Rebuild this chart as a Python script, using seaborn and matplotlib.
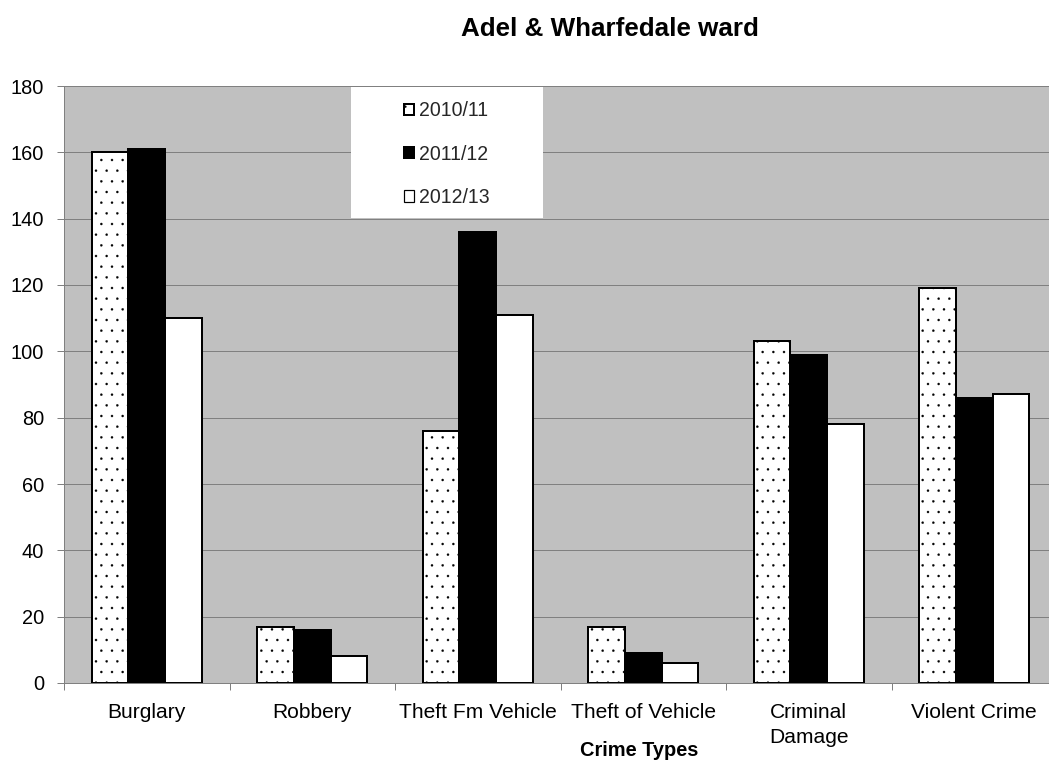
import matplotlib
matplotlib.use("Agg")
import matplotlib.pyplot as plt
import seaborn as sns
import pandas as pd
import numpy as np
from matplotlib.patches import Rectangle, Patch

# ---- data ----
categories = ["Burglary", "Robbery", "Theft Fm Vehicle", "Theft of Vehicle",
              "Criminal\nDamage", "Violent Crime"]
years = ["2010/11", "2011/12", "2012/13"]
values_2010_11 = [160, 17, 76, 17, 103, 119]
values_2011_12 = [161, 16, 136, 9, 99, 86]
values_2012_13 = [110, 8, 111, 6, 78, 87]
y_ticks = [0, 20, 40, 60, 80, 100, 120, 140, 160, 180]
title = "Adel & Wharfedale ward"
x_title = "Crime Types"

df = pd.DataFrame({
    "category": categories * 3,
    "year": [years[0]] * 6 + [years[1]] * 6 + [years[2]] * 6,
    "value": values_2010_11 + values_2011_12 + values_2012_13,
})

sns.set_theme(style="white")
plt.rcParams['font.family'] = ['Liberation Sans', 'DejaVu Sans']
plt.rcParams['hatch.linewidth'] = 0.15

DPI = 128
W, H = 1049, 762
px = 72.0 / DPI  # points per pixel

fig = plt.figure(figsize=(W / DPI, H / DPI), dpi=DPI)
fig.patch.set_facecolor('white')
ax = fig.add_axes([64 / W, (H - 683) / H, 993 / W, 597 / H])
ax.set_facecolor('#C0C0C0')

sns.barplot(data=df, x="category", y="value", hue="year", order=categories,
            hue_order=years, palette=["white", "black", "white"], saturation=1,
            width=0.667, edgecolor="black", linewidth=2 * px, errorbar=None,
            legend=False, ax=ax)

for patch in ax.containers[0]:
    patch.set_hatch('..')

ax.set_xlim(-0.5, len(categories) - 0.5)
ax.set_ylim(0, 180)
ax.set_yticks(y_ticks)
ax.set_yticklabels([str(v) for v in y_ticks])
ax.set_axisbelow(True)
ax.yaxis.grid(True, color='#808080', linewidth=1 * px)
ax.xaxis.grid(False)

for s in ['top', 'right']:
    ax.spines[s].set_visible(False)
for s in ['left', 'bottom']:
    ax.spines[s].set_color('#808080')
    ax.spines[s].set_linewidth(1 * px)

ax.tick_params(axis='y', which='major', left=True, length=7 * px, width=1 * px,
               color='#808080', pad=13 * px, labelsize=20 * px, labelcolor='black')
ax.set_xticks(range(len(categories)))
ax.set_xticklabels(categories, linespacing=1.42)
ax.set_xticks(np.arange(-0.5, len(categories), 1.0), minor=True)
ax.tick_params(axis='x', which='major', bottom=True, length=0, pad=20 * px,
               labelsize=21 * px, labelcolor='black')
ax.tick_params(axis='x', which='minor', bottom=True, length=7 * px, width=1 * px,
               color='#808080')
ax.set_xlabel('')
ax.set_ylabel('')

fig.text(609.5 / W, 1 - 36 / H, title, ha='center', va='baseline',
         fontsize=26 * px, fontweight='bold', color='black')
fig.text(639 / W, 1 - 756 / H, x_title, ha='center', va='baseline',
         fontsize=20 * px, fontweight='bold', color='black')

# legend box
box = Rectangle((351 / W, 1 - 218 / H), 192 / W, 131 / H, transform=fig.transFigure,
                facecolor='white', edgecolor='none', zorder=3)
fig.patches.append(box)

handles = [
    Patch(facecolor='white', edgecolor='black', hatch='..', linewidth=2 * px),
    Patch(facecolor='black', edgecolor='black', linewidth=2 * px),
    Patch(facecolor='white', edgecolor='black', linewidth=1.2 * px),
]
leg = fig.legend(handles, years, loc='center',
                 bbox_to_anchor=(447 / W, 1 - 154 / H), frameon=False,
                 fontsize=19.5 * px, handlelength=0.5, handleheight=0.5,
                 handletextpad=0.3, labelspacing=1.25, borderpad=0)
leg.set_zorder(5)

fig.savefig("out.png", dpi=DPI)
